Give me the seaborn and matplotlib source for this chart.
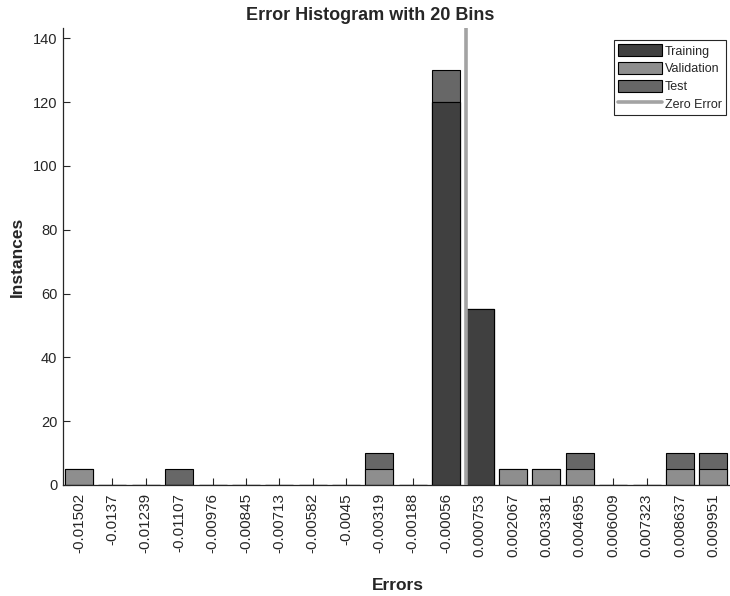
import numpy as np
import pandas as pd
import matplotlib
matplotlib.use("Agg")
import matplotlib.pyplot as plt
import seaborn as sns
from matplotlib.patches import Patch
from matplotlib.lines import Line2D

# ---- data ----
bin_labels = ["-0.01502", "-0.0137", "-0.01239", "-0.01107", "-0.00976",
              "-0.00845", "-0.00713", "-0.00582", "-0.0045", "-0.00319",
              "-0.00188", "-0.00056", "0.000753", "0.002067", "0.003381",
              "0.004695", "0.006009", "0.007323", "0.008637", "0.009951"]
training = [0, 0, 0, 0, 0, 0, 0, 0, 0, 0, 0, 120, 55, 0, 0, 0, 0, 0, 0, 0]
validation = [5, 0, 0, 0, 0, 0, 0, 0, 0, 5, 0, 0, 0, 5, 5, 5, 0, 0, 5, 5]
test = [0, 0, 0, 5, 0, 0, 0, 0, 0, 5, 0, 10, 0, 0, 0, 5, 0, 0, 5, 5]
zero_error_pos = 11.6   # position of the zero-error line on the bin axis
y_ticks = [0, 20, 40, 60, 80, 100, 120, 140]

# ---- style ----
sns.set_theme(style="white")
plt.rcParams["font.family"] = ["Liberation Sans", "DejaVu Sans"]

c_train = "#404040"
c_val = "#8e8e8e"
c_test = "#676767"
c_zero = "#a3a3a3"
txt = "#262626"

df = pd.DataFrame({"bin": bin_labels, "Training": training,
                   "Validation": validation, "Test": test})
df["s1"] = df["Training"]
df["s2"] = df["s1"] + df["Validation"]
df["s3"] = df["s2"] + df["Test"]

W, H = 730, 596
fig = plt.figure(figsize=(W / 100, H / 100), dpi=100)
ax = fig.add_axes([63 / W, (H - 485) / H, 667 / W, 457 / H])

common = dict(x="bin", order=bin_labels, width=0.84, edgecolor="black",
              linewidth=0.8, saturation=1, errorbar=None, ax=ax)
sns.barplot(data=df, y="s3", color=c_test, **common)
sns.barplot(data=df, y="s2", color=c_val, **common)
sns.barplot(data=df, y="s1", color=c_train, **common)

ax.axvline(zero_error_pos, color=c_zero, lw=2.6, zorder=5)

ax.set_xlim(-0.48, 19.5)
ax.set_ylim(0, 143.2)
ax.set_yticks(y_ticks)
ax.set_xlabel("")
ax.set_ylabel("")

for s in ["top", "right"]:
    ax.spines[s].set_visible(False)
for s in ["left", "bottom"]:
    ax.spines[s].set_color(txt)
    ax.spines[s].set_linewidth(0.9)

ax.tick_params(axis="x", bottom=True, direction="in", length=5, width=0.8,
               color=txt, labelcolor=txt, labelsize=11, labelrotation=90, pad=6)
ax.tick_params(axis="y", left=True, direction="in", length=5, width=0.8,
               color=txt, labelcolor=txt, labelsize=10.5, pad=4)

fig.text(370 / W, 1 - 16 / H, "Error Histogram with 20 Bins", ha="center",
         va="center", fontsize=13, fontweight="bold", color=txt)
fig.text(17.5 / W, 1 - 257 / H, "Instances", rotation=90, ha="center",
         va="center", fontsize=12.5, fontweight="bold", color=txt)
fig.text(398 / W, 1 - 586 / H, "Errors", ha="center", va="center",
         fontsize=12.5, fontweight="bold", color=txt)

handles = [Patch(facecolor=c_train, edgecolor="black", lw=0.8),
           Patch(facecolor=c_val, edgecolor="black", lw=0.8),
           Patch(facecolor=c_test, edgecolor="black", lw=0.8),
           Line2D([0], [0], color=c_zero, lw=2.6)]
leg = fig.legend(handles, ["Training", "Validation", "Test", "Zero Error"],
                 loc="upper right", bbox_to_anchor=(726 / W, 1 - 40 / H),
                 bbox_transform=fig.transFigure, borderaxespad=0,
                 fontsize=9, handlelength=3.5, handleheight=1.1,
                 handletextpad=0.2, labelspacing=0.35, borderpad=0.35,
                 fancybox=False, framealpha=1, edgecolor=txt)
leg.get_frame().set_linewidth(0.8)
for t in leg.get_texts():
    t.set_color(txt)

fig.savefig("out.png", dpi=100)
